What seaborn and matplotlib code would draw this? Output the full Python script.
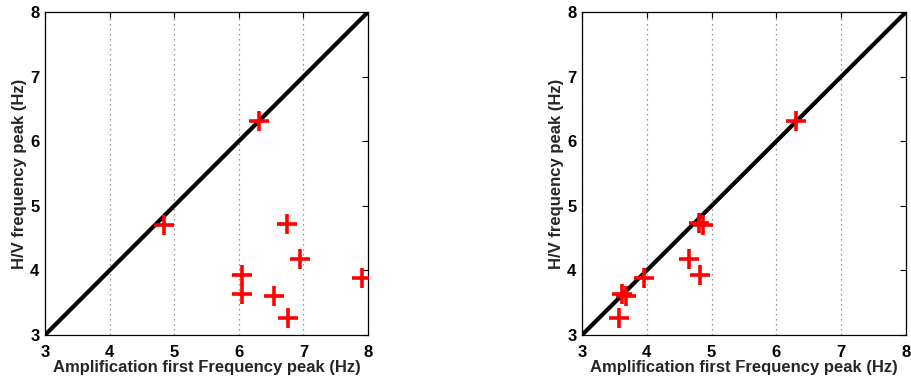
import numpy as np
import pandas as pd
import matplotlib
matplotlib.use("Agg")
import matplotlib.pyplot as plt
import seaborn as sns

# --- data ---
amp_left = [6.32, 4.84, 6.75, 6.95, 6.05, 6.05, 6.54, 6.76, 7.91]
hv_left = [6.31, 4.71, 4.72, 4.17, 3.93, 3.63, 3.60, 3.27, 3.89]

amp_right = [6.31, 4.80, 4.86, 4.65, 4.82, 3.95, 3.62, 3.68, 3.57]
hv_right = [6.31, 4.73, 4.70, 4.17, 3.93, 3.89, 3.63, 3.61, 3.27]

diag = [3, 8]
ticks = [3, 4, 5, 6, 7, 8]

sns.set_style("white")
plt.rcParams['font.family'] = ['Liberation Sans', 'DejaVu Sans']
plt.rcParams['font.weight'] = 'bold'

fig = plt.figure(figsize=(9.12, 3.81), dpi=100)
W, H = 912, 381
ax1 = fig.add_axes([45 / W, 1 - 335 / H, 323 / W, 323 / H])
ax2 = fig.add_axes([582 / W, 1 - 335 / H, 324 / W, 323 / H])

for ax, xs, ys in [(ax1, amp_left, hv_left), (ax2, amp_right, hv_right)]:
    df = pd.DataFrame({'amp': xs, 'hv': ys})
    sns.lineplot(x=diag, y=diag, ax=ax, color='black', linewidth=3.0, zorder=2)
    sns.scatterplot(data=df, x='amp', y='hv', ax=ax, marker='+', s=190,
                    color='red', linewidth=2.6, zorder=3)
    ax.set_xlim(3, 8)
    ax.set_ylim(3, 8)
    ax.set_xticks(ticks)
    ax.set_yticks(ticks)
    ax.set_xticklabels([str(t) for t in ticks], fontsize=12, fontweight='bold')
    ax.set_yticklabels([str(t) for t in ticks], fontsize=12, fontweight='bold')
    ax.xaxis.grid(True, linestyle=(0, (1, 3)), color='#777777', linewidth=0.9)
    ax.yaxis.grid(False)
    ax.tick_params(direction='in', length=4, width=0.8, top=True, right=True,
                   colors='black')
    ax.tick_params(axis='x', pad=7)
    ax.tick_params(axis='y', pad=4)
    for sp in ax.spines.values():
        sp.set_color('black')
        sp.set_linewidth(0.9)
    ax.set_xlabel('Amplification first Frequency peak (Hz)', fontsize=12,
                  fontweight='bold', labelpad=0)
    ax.set_ylabel('H/V frequency peak (Hz)', fontsize=12, fontweight='bold',
                  labelpad=2)

fig.savefig('out.png', dpi=100)
